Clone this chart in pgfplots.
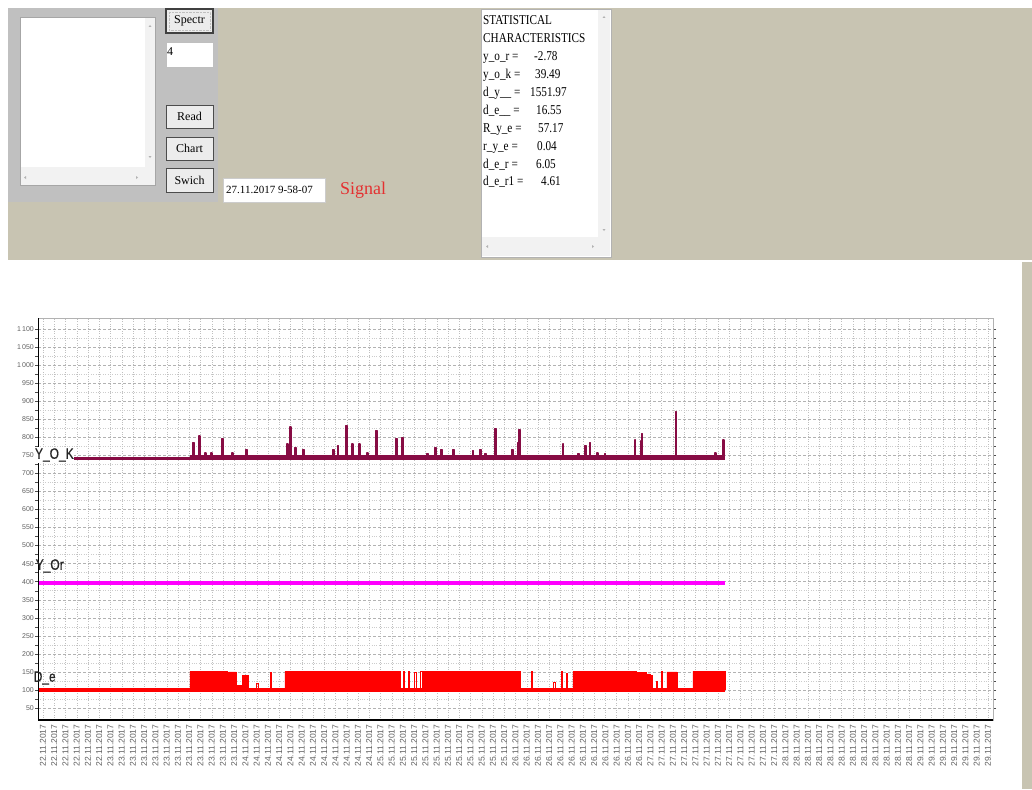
\documentclass[border=0pt]{standalone}
\usepackage{fontspec}
\setmainfont{Liberation Sans}
\newfontfamily\guiserif{Liberation Serif}
\newfontfamily\guicond[FakeStretch=0.83]{Liberation Serif}
\newfontfamily\sanscond[FakeStretch=0.8,FakeBold=0.6]{Liberation Sans}
\usepackage{pgfplots}
\pgfplotsset{compat=1.18}

\definecolor{beige}{RGB}{200,196,178}
\definecolor{panelgray}{RGB}{192,192,192}
\definecolor{btngray}{RGB}{236,236,236}
\definecolor{scrollgray}{RGB}{242,242,242}
\definecolor{yok}{RGB}{135,12,68}
\definecolor{yor}{RGB}{255,0,255}
\definecolor{dered}{RGB}{255,0,0}
\definecolor{sigred}{RGB}{228,48,48}

\begin{document}
\begin{tikzpicture}[x=1pt,y=1pt]
\useasboundingbox (0,0) rectangle (1032,-789);
\fill[white] (0,0) rectangle (1032,-789);
% top panel
\fill[beige] (8,-8) rectangle (1032,-260);
\fill[beige] (1022,-262) rectangle (1032,-789);
% left grey panel
\fill[panelgray] (8,-8) rectangle (218,-202);
\fill[white] (20,-17) rectangle (155,-185);
\fill[scrollgray] (145,-17) rectangle (155,-167);
\fill[scrollgray] (20,-167) rectangle (155,-185);
\draw[gray!70] (20,-17) rectangle (155,-185);
\fill[gray!60] (148.5,-27) -- (151.5,-27) -- (150,-25) -- cycle;
\fill[gray!60] (148.5,-156) -- (151.5,-156) -- (150,-158) -- cycle;
\fill[gray!60] (26,-176) -- (26,-179) -- (24,-177.5) -- cycle;
\fill[gray!60] (136,-176) -- (136,-179) -- (138,-177.5) -- cycle;
% buttons
\tikzset{btn/.style={fill=btngray, draw=gray!60!black, line width=0.6pt}}
\draw[btn, line width=1.2pt, draw=black!75] (166,-9) rectangle (213,-33);
\draw[gray!50, densely dotted] (169,-12) rectangle (210,-30);
\node[font=\guiserif\fontsize{12}{12}\selectfont] at (189.5,-21) {Spectr};
\draw[fill=white, draw=gray!50] (166,-42) rectangle (213,-67);
\node[anchor=west, inner sep=1pt, font=\guiserif\fontsize{12}{12}\selectfont] at (166,-52) {4};
\draw[btn] (166,-105) rectangle (213,-128);
\node[font=\guiserif\fontsize{12}{12}\selectfont] at (189.5,-116.5) {Read};
\draw[btn] (166,-137) rectangle (213,-160);
\node[font=\guiserif\fontsize{12}{12}\selectfont] at (189.5,-148.5) {Chart};
\draw[btn] (166,-168) rectangle (213,-192);
\node[font=\guiserif\fontsize{12}{12}\selectfont] at (189.5,-180) {Swich};
% date box and signal
\draw[fill=white, draw=gray!40] (223,-178) rectangle (325,-202);
\node[anchor=west, inner sep=0pt, font=\guiserif\fontsize{11}{11}\selectfont] at (226,-190) {27.11.2017 9-58-07};
\node[anchor=west, inner sep=0pt, text=sigred, font=\guiserif\fontsize{18}{18}\selectfont] at (340,-190) {Signal};
% statistics box
\draw[fill=white, draw=gray!60] (481,-9) rectangle (611,-257);
\fill[scrollgray] (598,-10) rectangle (610,-237);
\fill[scrollgray] (482,-237) rectangle (610,-256);
\fill[gray!60] (602.5,-18) -- (605.5,-18) -- (604,-16) -- cycle;
\fill[gray!60] (602.5,-229) -- (605.5,-229) -- (604,-231) -- cycle;
\fill[gray!60] (488,-245) -- (488,-248) -- (486,-246.5) -- cycle;
\fill[gray!60] (592,-245) -- (592,-248) -- (594,-246.5) -- cycle;
\begin{scope}[every node/.style={anchor=base west, inner sep=0pt, font=\guicond\fontsize{13.5}{13.5}\selectfont}]
\node at (483,-25) {STATISTICAL};
\node at (483,-43) {CHARACTERISTICS};
\node at (483,-61) {y\_o\_r =};   \node at (534,-61) {-2.78};
\node at (483,-79) {y\_o\_k =};   \node at (535,-79) {39.49};
\node at (483,-97) {d\_y\_\_ =};  \node at (530,-97) {1551.97};
\node at (483,-114) {d\_e\_\_ =}; \node at (536,-114) {16.55};
\node at (483,-132) {R\_y\_e =};  \node at (538,-132) {57.17};
\node at (483,-150) {r\_y\_e =};  \node at (537,-150) {0.04};
\node at (483,-168) {d\_e\_r =};  \node at (536,-168) {6.05};
\node at (483,-185) {d\_e\_r1 =}; \node at (541,-185) {4.61};
\end{scope}

\begin{axis}[
  at={(38pt,-720pt)}, anchor=south west,
  width=955pt, height=402pt, scale only axis,
  xmin=11.11, xmax=180.9, ymin=17, ymax=1130,
  axis line style={draw=gray!60, line width=0.6pt},
  xtick={12,14,...,180},
  xticklabel={\pgfmathtruncatemacro{\dd}{22+floor((\ticknum+6)/12)}\dd.11.2017},
  xticklabel style={rotate=90, anchor=east, font=\fontsize{8.5}{8.5}\selectfont, text=gray!75!black, inner sep=1.5pt},
  ytick={50,100,...,1100},
  yticklabel style={font=\fontsize{7}{7}\selectfont, text=gray!75!black, inner sep=1pt},
  /pgf/number format/1000 sep={\,},
  /pgf/number format/assume math mode=true,
  xtick style={draw=none},
  ytick style={draw=gray!60!black, line width=0.4pt},
  major tick length=3pt, tick align=outside,
  minor y tick num=1,
  xmajorgrids, ymajorgrids, yminorgrids,
  x grid style={gray!50, dotted, line width=0.45pt},
  major y grid style={gray!60, densely dashed, line width=0.35pt},
  minor y grid style={gray!40, dotted, line width=0.45pt},
]
% Y_Or
\addplot[yor, line width=4pt] coordinates {(11.11,395) (133.24,395)};
% D_e baseline
\addplot[dered, line width=4pt] coordinates {(11.11,100) (133.24,100)};
% D_e dense blocks
\addplot[fill=dered, draw=dered, line width=0.4pt] coordinates {
 (38.13,100)(38.13,152)(40.3,152)(40.3,118)(40.5,118)(40.5,152)(42.8,152)(42.8,122)(43.0,122)(43.0,152)
 (44.8,152)(44.8,125)(45.0,125)(45.0,150)(46.4,150)(46.4,112)(47.4,112)(47.4,140)(48.44,140)(48.44,100)
 (55.02,100)(55.02,152)(70.0,152)(70.0,120)(70.2,120)(70.2,152)(72.3,152)(72.3,118)(72.5,118)(72.5,152)
 (73.9,152)(73.9,122)(74.1,122)(74.1,152)(75.47,152)(75.47,100)
 (79.56,100)(79.56,152)(90.1,152)(90.1,120)(90.3,120)(90.3,152)(93.1,152)(93.1,118)(93.3,118)(93.3,152)
 (94.9,152)(94.9,122)(95.1,122)(95.1,152)(96.8,152)(96.8,100)
 (106.22,100)(106.22,152)(115.7,152)(115.7,118)(115.9,118)(115.9,152)(117.5,152)(117.5,120)(117.7,120)(117.7,148)
 (119.3,148)(119.3,125)(119.5,125)(119.5,145)(119.91,145)(119.91,100)
 (122.93,100)(122.93,150)(124.71,150)(124.71,100)
 (127.56,100)(127.56,152)(129.2,152)(129.2,120)(129.4,120)(129.4,152)(130.5,152)(130.5,122)(130.7,122)(130.7,152)
 (133.24,152)(133.24,100)
};
% D_e sparse spikes
\addplot[dered, line width=1pt] coordinates {
 (49.9,100)(49.9,118)(50.4,118)(50.4,100)
 (52.4,100)(52.4,148)(52.6,148)(52.6,100)
 (76.05,100)(76.05,150)(76.25,150)(76.25,100)
 (76.9,100)(76.9,150)(77.1,150)(77.1,100)
 (78.13,100)(78.13,148)(78.33,148)(78.33,100)
 (79.2,100)(79.2,150)(79.4,150)(79.4,100)
 (98.87,100)(98.87,150)(99.07,150)(99.07,100)
 (102.8,100)(102.8,120)(103.2,120)(103.2,100)
 (104.2,100)(104.2,150)(104.4,150)(104.4,100)
 (105.1,100)(105.1,145)(105.3,145)(105.3,100)
 (120.2,100)(120.2,140)(120.4,140)(120.4,100)
 (121.1,100)(121.1,125)(121.3,125)(121.3,100)
 (122.0,100)(122.0,150)(122.2,150)(122.2,100)
};
% Y_O_K baseline
\addplot[yok, line width=3pt] coordinates {(11.11,741) (133.24,741)};
\addplot[yok, line width=2pt] coordinates {(38.13,747) (133.24,747)};
% Y_O_K spikes
\addplot[yok, line width=1.6pt, line join=bevel] coordinates {
 (38.67,741)(38.67,785)(38.8,785)(38.8,741)
 (39.73,741)(39.73,804)(39.86,804)(39.86,741)
 (40.8,741)(40.8,757)(40.93,757)(40.93,741)
 (41.87,741)(41.87,757)(42.0,757)(42.0,741)
 (43.82,741)(43.82,796)(43.95,796)(43.95,741)
 (45.6,741)(45.6,757)(45.73,757)(45.73,741)
 (48.09,741)(48.09,766)(48.22,766)(48.22,741)
 (55.38,741)(55.38,782)(55.51,782)(55.51,741)
 (55.91,741)(55.91,829)(56.04,829)(56.04,741)
 (56.8,741)(56.8,771)(56.93,771)(56.93,741)
 (58.22,741)(58.22,766)(58.35,766)(58.35,741)
 (63.56,741)(63.56,766)(63.69,766)(63.69,741)
 (64.44,741)(64.44,777)(64.57,777)(64.57,741)
 (65.87,741)(65.87,832)(66.0,832)(66.0,741)
 (66.93,741)(66.93,782)(67.06,782)(67.06,741)
 (68.18,741)(68.18,782)(68.31,782)(68.31,741)
 (69.6,741)(69.6,757)(69.73,757)(69.73,741)
 (71.2,741)(71.2,818)(71.35,818)(71.35,790)(71.5,790)(71.5,741)
 (74.76,741)(74.76,796)(74.89,796)(74.89,741)
 (75.82,741)(75.82,799)(75.95,799)(75.95,741)
 (80.27,741)(80.27,755)(80.4,755)(80.4,741)
 (81.69,741)(81.69,771)(81.82,771)(81.82,741)
 (82.76,741)(82.76,766)(82.89,766)(82.89,741)
 (84.89,741)(84.89,766)(85.02,766)(85.02,741)
 (88.44,741)(88.44,763)(88.57,763)(88.57,741)
 (89.69,741)(89.69,766)(89.82,766)(89.82,741)
 (90.58,741)(90.58,755)(90.71,755)(90.71,741)
 (92.36,741)(92.36,824)(92.49,824)(92.49,741)
 (95.38,741)(95.38,766)(95.51,766)(95.51,741)
 (96.5,741)(96.5,785)(96.65,785)(96.65,821)(96.8,821)(96.8,741)
 (104.44,741)(104.44,782)(104.57,782)(104.57,741)
 (107.11,741)(107.11,755)(107.24,755)(107.24,741)
 (108.36,741)(108.36,777)(108.49,777)(108.49,741)
 (109.24,741)(109.24,785)(109.37,785)(109.37,741)
 (110.49,741)(110.49,757)(110.62,757)(110.62,741)
 (111.91,741)(111.91,755)(112.04,755)(112.04,741)
 (117.24,741)(117.24,793)(117.37,793)(117.37,741)
 (118.3,741)(118.3,790)(118.45,790)(118.45,810)(118.6,810)(118.6,741)
 (124.53,741)(124.53,871)(124.66,871)(124.66,741)
 (131.47,741)(131.47,757)(131.6,757)(131.6,741)
 (132.89,741)(132.89,793)(133.02,793)(133.02,741)
};
\draw[black, line width=2pt] (rel axis cs:0,0) -- (rel axis cs:0,1);
\draw[black, line width=3pt] (rel axis cs:0,0) -- (rel axis cs:1,0);
\end{axis}

% series labels
\node[anchor=west, fill=white, inner sep=0.8pt, text=black!85, font=\sanscond\fontsize{15}{15}\selectfont] at (34,-455) {Y\_O\_K};
\node[anchor=west, inner sep=0.5pt, text=black!85, font=\sanscond\fontsize{15}{15}\selectfont] at (35,-566) {Y\_Or};
\node[anchor=west, inner sep=0.5pt, text=black!85, font=\sanscond\fontsize{15}{15}\selectfont] at (33,-678) {D\_e};
\end{tikzpicture}
\end{document}
